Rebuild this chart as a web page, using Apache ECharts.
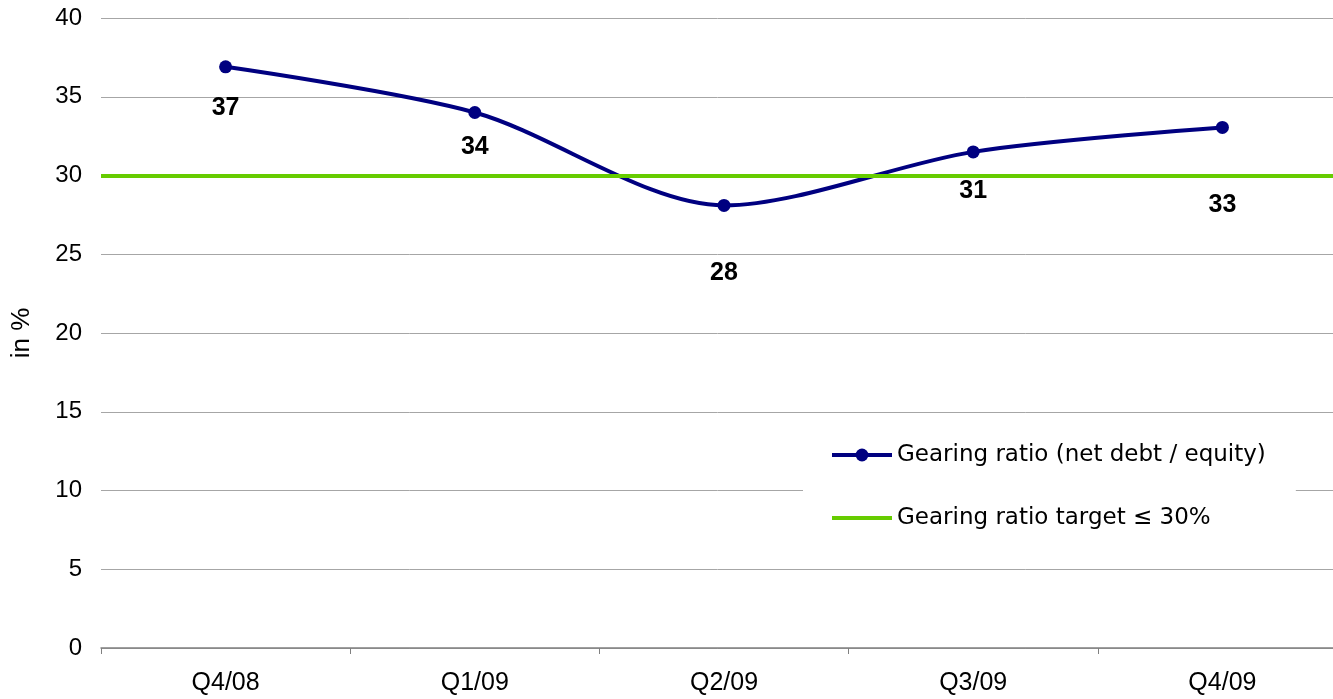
<!DOCTYPE html>
<html>
<head>
<meta charset="utf-8">
<script src="https://cdn.jsdelivr.net/npm/echarts@6/dist/echarts.min.js"></script>
<style>html,body{margin:0;padding:0;background:#fff}#c{width:1333px;height:699px}</style>
</head>
<body>
<div id="c"></div>
<script>
const categories = ['Q4/08', 'Q1/09', 'Q2/09', 'Q3/09', 'Q4/09'];
const gearingValues = [36.9, 34.0, 28.1, 31.5, 33.05];
const gearingLabels = ['37', '34', '28', '31', '33'];
const targetValue = 30;
const yTicks = [0, 5, 10, 15, 20, 25, 30, 35, 40];
const seriesNames = ['Gearing ratio (net debt / equity)', 'Gearing ratio target \u2264 30%'];

// label placement (styling): distance below each marker
const labelDistances = [22, 15.5, 49, 20.5, 58.5];

const font = 'Liberation Sans, Arial, sans-serif';
const legendFont = 'DejaVu Sans, sans-serif';
const chart = echarts.init(document.getElementById('c'));
chart.setOption({
  animation: false,
  backgroundColor: '#fff',
  textStyle: { fontFamily: font },
  grid: { left: 101, right: -14, top: 18, bottom: 51, outerBoundsMode: 'none', containLabel: false },
  legend: {
    orient: 'vertical',
    left: 803,
    top: 424,
    padding: [18, 30, 18, 27],
    backgroundColor: '#fff',
    itemWidth: 60,
    itemHeight: 16,
    itemGap: 37,
    textStyle: { fontSize: 23, lineHeight: 26, color: '#000', fontFamily: legendFont },
    data: [
      { name: seriesNames[0], lineStyle: { width: 4 } },
      { name: seriesNames[1], icon: 'path://M0,0H60V4H0Z' }
    ]
  },
  xAxis: {
    type: 'category',
    data: categories,
    boundaryGap: true,
    axisLine: { lineStyle: { color: '#808080', width: 1.5 } },
    axisTick: { show: true, length: 6, lineStyle: { color: '#808080' } },
    axisLabel: { fontSize: 25, color: '#000', margin: 23, fontFamily: font }
  },
  yAxis: {
    type: 'value',
    min: yTicks[0],
    max: yTicks[yTicks.length - 1],
    interval: 5,
    name: 'in %',
    nameLocation: 'middle',
    nameGap: 66,
    nameRotate: 90,
    nameTextStyle: { fontSize: 26, color: '#000', fontFamily: font },
    axisLine: { show: false },
    axisTick: { show: false },
    axisLabel: { fontSize: 24, color: '#000', margin: 19, fontFamily: font },
    splitLine: { lineStyle: { color: '#a6a6a6', width: 1 } }
  },
  series: [
    {
      name: seriesNames[0],
      type: 'line',
      data: gearingValues.map((v, i) => ({
        value: v,
        label: { distance: labelDistances[i] }
      })),
      smooth: 0.3,
      symbol: 'circle',
      symbolSize: 13,
      z: 3,
      itemStyle: { color: '#000080' },
      lineStyle: { color: '#000080', width: 4 },
      label: {
        show: true,
        position: 'bottom',
        fontSize: 25,
        fontWeight: 'bold',
        color: '#000',
        fontFamily: font,
        formatter: p => gearingLabels[p.dataIndex]
      }
    },
    {
      name: seriesNames[1],
      type: 'line',
      data: categories.map(() => null),
      symbol: 'none',
      z: 2,
      itemStyle: { color: '#66cc00' },
      lineStyle: { color: '#66cc00', width: 4 },
      markLine: {
        silent: true,
        symbol: ['none', 'none'],
        label: { show: false },
        lineStyle: { color: '#66cc00', width: 4, type: 'solid' },
        data: [{ yAxis: targetValue }]
      }
    }
  ]
});
</script>
</body>
</html>
